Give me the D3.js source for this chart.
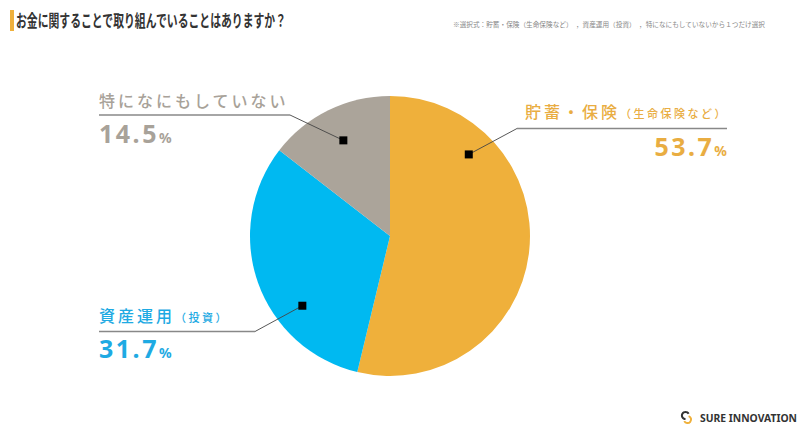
<!DOCTYPE html>
<html>
<head>
<meta charset="utf-8">
<script src="https://cdn.jsdelivr.net/npm/d3@7"></script>
<style>
  body { margin: 0; background: #fff; }
  svg { display: block; font-family: "Noto Sans CJK JP", "Noto Sans", sans-serif; }
</style>
</head>
<body>
<svg id="chart" width="800" height="430"></svg>
<script>
// Data
var categories = ["貯蓄・保険", "資産運用", "特になにもしていない"];
var subLabels = ["（生命保険など）", "（投資）", ""];
var values = [53.7, 31.7, 14.5];
var colors = ["#efb03b", "#00b9f1", "#aba49a"];
var textColors = ["#e9ad42", "#1eaae3", "#a8a299"];

var title = "お金に関することで取り組んでいることはありますか？";
var note = "※選択式：貯蓄・保険（生命保険など）　，資産運用（投資）　，特になにもしていないから１つだけ選択";

// Label layout (marker angle in degrees, marker radius, elbow, line end, text anchor side)
var layout = [
    { angle: 44, rad: 0.81, elbow: [517, 128.5], end: 727, side: "right", textX: 525, labelY: 118, pctY: 156 },
    { angle: 231.5, rad: 0.80, elbow: [255, 331.5], end: 99, side: "left", textX: 99, labelY: 322, pctY: 358 },
    { angle: 334, rad: 0.76, elbow: [290, 115], end: 99, side: "left", textX: 99, labelY: 107, pctY: 143 }
];

var svg = d3.select("#chart");
var cx = 390, cy = 236, radius = 140;

// Header
svg.append("rect")
    .attr("x", 10).attr("y", 10)
    .attr("width", 4).attr("height", 21)
    .style("fill", "#efb03b");
svg.append("text")
    .text(title)
    .attr("x", 16).attr("y", 26.5)
    .attr("font-size", 16.5)
    .attr("font-weight", "bold")
    .attr("textLength", 270)
    .attr("lengthAdjust", "spacingAndGlyphs")
    .style("fill", "#333");
svg.append("text")
    .text(note)
    .attr("x", 453).attr("y", 27)
    .attr("font-size", 6.5)
    .attr("textLength", 312)
    .attr("lengthAdjust", "spacingAndGlyphs")
    .style("fill", "#888");

// Pie
var pie = d3.pie().sort(null).value(d => d.value);
var arc = d3.arc().innerRadius(0).outerRadius(radius);
var data = categories.map((c, i) => ({ name: c, sub: subLabels[i], value: values[i], color: colors[i], text: textColors[i], lay: layout[i] }));

var g = svg.append("g")
    .attr("transform", `translate(${cx}, ${cy})`);
g.selectAll(".slice")
    .data(pie(data))
    .enter().append("path")
    .attr("class", "slice")
    .attr("d", arc)
    .style("fill", d => d.data.color);

// Labels
data.forEach(function (d) {
    var a = d.lay.angle * Math.PI / 180;
    var mx = cx + Math.sin(a) * radius * d.lay.rad;
    var my = cy - Math.cos(a) * radius * d.lay.rad;
    var ex = d.lay.elbow[0], ey = d.lay.elbow[1];

    // leader line
    svg.append("line")
        .attr("x1", mx).attr("y1", my).attr("x2", ex).attr("y2", ey)
        .style("stroke", "#444").style("stroke-width", 0.9);
    var hx = d.lay.side === "right" ? ex : d.lay.end;
    var hx2 = d.lay.side === "right" ? d.lay.end : ex;
    svg.append("line")
        .attr("x1", hx).attr("y1", ey).attr("x2", hx2).attr("y2", ey)
        .style("stroke", "#888").style("stroke-width", 1.3);

    // marker
    svg.append("rect")
        .attr("x", mx - 4).attr("y", my - 4)
        .attr("width", 8).attr("height", 8)
        .style("fill", "#000");

    // category label
    var lbl = svg.append("text")
        .attr("x", d.lay.textX).attr("y", d.lay.labelY)
        .attr("font-size", 16)
        .attr("font-weight", 500)
        .attr("letter-spacing", 3)
        .style("fill", d.text);
    lbl.append("tspan").text(d.name);
    if (d.sub) {
        lbl.append("tspan")
            .text(d.sub)
            .attr("font-size", 11)
            .attr("letter-spacing", 2.5);
    }

    // percentage
    var pct = svg.append("text")
        .attr("y", d.lay.pctY)
        .attr("font-family", "'Noto Sans', sans-serif")
        .attr("font-weight", "bold")
        .style("fill", d.text);
    if (d.lay.side === "right") {
        pct.attr("x", d.lay.end).attr("text-anchor", "end");
    } else {
        pct.attr("x", d.lay.textX);
    }
    pct.append("tspan").text(d.value.toFixed(1))
        .attr("font-size", 25)
        .attr("letter-spacing", 2.5);
    pct.append("tspan").text("%")
        .attr("font-size", 14)
        .attr("dx", 0);
});

// Logo
var logo = svg.append("g")
    .attr("transform", "translate(686, 417)");
logo.append("path")
    .attr("d", d3.arc().innerRadius(2.6).outerRadius(4.6).startAngle(-Math.PI).endAngle(Math.PI / 3)())
    .attr("transform", "translate(-0.5, -1.5)")
    .style("fill", "#333");
logo.append("path")
    .attr("d", d3.arc().innerRadius(2.6).outerRadius(4.6).startAngle(Math.PI * 0.1).endAngle(Math.PI * 1.35)())
    .attr("transform", "translate(1.5, 2.5)")
    .style("fill", "#efb03b");
svg.append("text")
    .text("SURE INNOVATION")
    .attr("x", 700).attr("y", 422)
    .attr("font-family", "'Noto Sans', sans-serif")
    .attr("font-size", 10.5)
    .attr("font-weight", "bold")
    .attr("textLength", 97)
    .attr("lengthAdjust", "spacingAndGlyphs")
    .style("fill", "#333");
</script>
</body>
</html>
